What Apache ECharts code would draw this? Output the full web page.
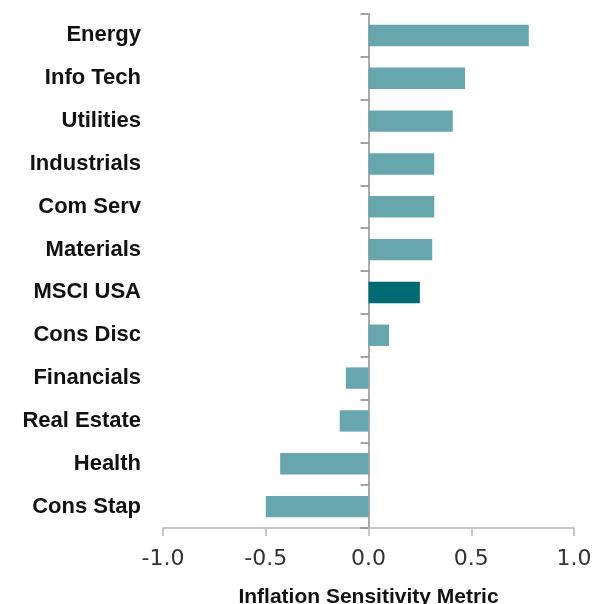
<!DOCTYPE html>
<html>
<head>
<meta charset="utf-8">
<script src="https://cdn.jsdelivr.net/npm/echarts@6/dist/echarts.min.js"></script>
<style>
  html, body { margin: 0; padding: 0; background: #fff; }
  #chart { width: 596px; height: 604px; }
</style>
</head>
<body>
<div id="chart"></div>
<script>
// sectors, top to bottom
const sectors = ["Energy", "Info Tech", "Utilities", "Industrials", "Com Serv", "Materials",
  "MSCI USA", "Cons Disc", "Financials", "Real Estate", "Health", "Cons Stap"];
const sensitivity = [0.78, 0.47, 0.41, 0.32, 0.32, 0.31, 0.25, 0.10, -0.11, -0.14, -0.43, -0.50];
const highlight = "MSCI USA";
const xTicks = [-1.0, -0.5, 0.0, 0.5, 1.0];

const barColor = "#68a6ad";
const highlightColor = "#006a73";

const chart = echarts.init(document.getElementById("chart"));
chart.setOption({
  animation: false,
  grid: { left: 163, right: 22, top: 14, bottom: 76, containLabel: false, outerBoundsMode: "none" },
  xAxis: {
    type: "value",
    min: xTicks[0],
    max: xTicks[xTicks.length - 1],
    interval: 0.5,
    name: "Inflation Sensitivity Metric",
    nameLocation: "middle",
    nameGap: 59,
    nameTextStyle: { fontFamily: "Liberation Sans", fontWeight: "bold", fontSize: 21, color: "#111" },
    axisLine: { show: true, lineStyle: { color: "#b5b5b5", width: 1.5 } },
    axisTick: { show: true, length: 8, lineStyle: { color: "#b5b5b5", width: 1.5 } },
    axisLabel: {
      margin: 20,
      fontFamily: "DejaVu Sans",
      fontSize: 22,
      color: "#333",
      formatter: (v) => v.toFixed(1),
    },
    splitLine: { show: false },
  },
  yAxis: [
    {
      type: "category",
      data: sectors,
      inverse: true,
      axisLine: { show: false, onZero: false },
      axisTick: { show: false },
      axisLabel: {
        margin: 22,
        fontFamily: "Liberation Sans",
        fontWeight: "bold",
        fontSize: 22,
        color: "#111",
      },
    },
    {
      type: "category",
      data: sectors,
      inverse: true,
      position: "left",
      axisLine: { show: true, onZero: true, lineStyle: { color: "#aaaaaa", width: 2 } },
      axisTick: { show: true, length: 8, lineStyle: { color: "#888", width: 1.5 } },
      axisLabel: { show: false },
    },
  ],
  series: [
    {
      type: "bar",
      yAxisIndex: 0,
      barCategoryGap: "50%",
      data: sensitivity.map((v, i) => ({
        value: v,
        itemStyle: { color: sectors[i] === highlight ? highlightColor : barColor },
      })),
    },
  ],
});
</script>
</body>
</html>
